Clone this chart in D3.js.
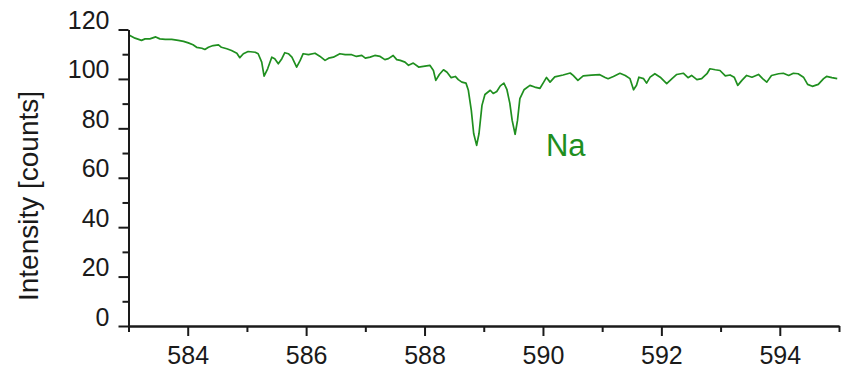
<!DOCTYPE html>
<html>
<head>
<meta charset="utf-8">
<script src="https://cdn.jsdelivr.net/npm/d3@7"></script>
<style>
  html, body { margin: 0; padding: 0; background: #fff; }
  svg { display: block; }
  text { font-family: "Liberation Sans", Arial, Helvetica, sans-serif; }
</style>
</head>
<body>
<svg id="chart" width="846" height="371"></svg>
<script>
// Wavelength (nm) and intensity (counts)
const wavelength = [
  583.00, 583.11, 583.22, 583.28, 583.36, 583.46, 583.53, 583.62, 583.73, 583.84,
  583.93, 584.01, 584.09, 584.15, 584.24, 584.29, 584.35, 584.43, 584.52, 584.57,
  584.66, 584.74, 584.83, 584.88, 584.94, 585.02, 585.14, 585.19, 585.25, 585.29,
  585.35, 585.42, 585.47, 585.53, 585.59, 585.64, 585.70, 585.76, 585.84, 585.90,
  585.95, 586.04, 586.15, 586.23, 586.32, 586.38, 586.46, 586.57, 586.66, 586.77,
  586.85, 586.94, 587.00, 587.08, 587.16, 587.25, 587.33, 587.39, 587.47, 587.53,
  587.59, 587.67, 587.73, 587.81, 587.90, 587.98, 588.09, 588.15, 588.19, 588.25,
  588.32, 588.38, 588.45, 588.52, 588.57, 588.63, 588.70, 588.74, 588.79, 588.83,
  588.88, 588.92, 588.97, 589.02, 589.11, 589.16, 589.22, 589.28, 589.34, 589.39,
  589.44, 589.48, 589.53, 589.57, 589.61, 589.68, 589.78, 589.86, 589.95, 590.01,
  590.06, 590.12, 590.20, 590.34, 590.46, 590.51, 590.59, 590.68, 590.82, 590.96,
  591.05, 591.10, 591.19, 591.30, 591.39, 591.47, 591.53, 591.58, 591.62, 591.70,
  591.75, 591.81, 591.89, 591.98, 592.09, 592.18, 592.26, 592.37, 592.45, 592.51,
  592.60, 592.68, 592.77, 592.82, 592.91, 592.99, 593.08, 593.16, 593.23, 593.29,
  593.36, 593.44, 593.53, 593.64, 593.71, 593.78, 593.86, 593.98, 594.06, 594.15,
  594.23, 594.31, 594.40, 594.47, 594.55, 594.65, 594.74, 594.79, 594.88, 594.97
];
const intensity = [
  117.9, 116.5, 115.6, 116.2, 116.2, 117.0, 116.2, 116.0, 116.0, 115.6,
  115.2, 114.6, 113.8, 112.8, 112.4, 111.9, 112.8, 113.5, 113.8, 112.8,
  112.2, 111.5, 110.4, 108.6, 110.2, 111.1, 110.8, 110.2, 106.8, 101.1,
  104.1, 108.8, 108.2, 106.1, 108.2, 110.6, 110.2, 108.8, 104.8, 107.5,
  110.2, 109.8, 110.4, 109.2, 107.5, 108.4, 108.8, 110.2, 109.8, 109.8,
  109.1, 109.5, 108.4, 108.8, 109.5, 109.1, 107.8, 108.2, 109.5, 107.8,
  107.5, 106.8, 105.5, 106.4, 104.8, 105.1, 105.5, 103.4, 99.4, 101.8,
  103.7, 102.7, 100.5, 101.0, 99.7, 98.7, 98.3, 95.4, 87.3, 77.9,
  73.1, 77.9, 89.3, 93.7, 95.4, 94.1, 94.9, 97.2, 98.3, 95.8,
  90.2, 83.2, 77.6, 83.2, 92.0, 95.6, 97.4, 96.7, 96.2, 98.6,
  100.6, 98.7, 100.8, 101.6, 102.4, 101.4, 99.4, 101.2, 101.5, 101.7,
  100.6, 100.1, 101.0, 102.3, 101.4, 100.1, 95.6, 97.4, 100.7, 100.1,
  98.3, 100.7, 102.1, 100.7, 98.1, 100.1, 101.8, 102.3, 100.5, 101.4,
  99.7, 100.1, 102.1, 104.1, 103.7, 103.4, 101.2, 101.6, 100.7, 97.4,
  99.4, 101.4, 100.7, 101.8, 100.1, 98.7, 101.4, 102.1, 102.3, 101.4,
  102.3, 102.1, 100.7, 97.8, 97.0, 97.8, 100.1, 101.0, 100.5, 100.1
];
const xMajorTicks = [584, 586, 588, 590, 592, 594];
const xMinorTicks = [583, 585, 587, 589, 591, 593, 595];
const yMajorTicks = [0, 20, 40, 60, 80, 100, 120];
const yMinorTicks = [10, 30, 50, 70, 90, 110];
const xDomain = [583, 595];
const yDomain = [0, 120];
const yLabel = "Intensity [counts]";
const annotation = { text: "Na", x: 590.05, y: 69 };

const svg = d3.select("#chart");
const mLeft = 128.5, mRight = 839, mTop = 29.5, mBottom = 326;
const lineColor = "#1f8f1f";
const inkColor = "#1a1a1a";

const x = d3.scaleLinear().domain(xDomain).range([mLeft, mRight]);
const y = d3.scaleLinear().domain(yDomain).range([mBottom, mTop]);

// Data line
const pts = wavelength.map((w, i) => [w, intensity[i]]);
svg.append("path")
  .datum(pts)
  .attr("fill", "none")
  .attr("stroke", lineColor)
  .attr("stroke-width", 1.7)
  .attr("stroke-linejoin", "round")
  .attr("d", d3.line().x(d => x(d[0])).y(d => y(d[1])));

// Minor ticks
const gxMinor = svg.append("g").attr("transform", `translate(0,${mBottom})`)
  .call(d3.axisBottom(x).tickValues(xMinorTicks).tickSize(6).tickSizeOuter(0).tickFormat(""));
const gyMinor = svg.append("g").attr("transform", `translate(${mLeft},0)`)
  .call(d3.axisLeft(y).tickValues(yMinorTicks).tickSize(6).tickSizeOuter(0).tickFormat(""));

// Major axes
const gx = svg.append("g").attr("transform", `translate(0,${mBottom})`)
  .call(d3.axisBottom(x).tickValues(xMajorTicks).tickSize(10).tickSizeOuter(0).tickPadding(10).tickFormat(d3.format("d")));
const gy = svg.append("g").attr("transform", `translate(${mLeft},0)`)
  .call(d3.axisLeft(y).tickValues(yMajorTicks).tickSize(10).tickSizeOuter(0).tickPadding(9).tickFormat(d3.format("d")));

[gxMinor, gyMinor, gx, gy].forEach(g => {
  g.selectAll("path.domain").attr("stroke", inkColor).attr("stroke-width", 2);
  g.selectAll(".tick line").attr("stroke", inkColor).attr("stroke-width", 2);
  g.selectAll("text")
    .attr("font-family", '"Liberation Sans", Arial, sans-serif')
    .attr("font-size", 25)
    .attr("fill", inkColor);
});
gx.selectAll("text").attr("dy", "0.71em");
gy.selectAll("text").attr("dy", "-0.04em");

// Y axis label
svg.append("text")
  .attr("transform", `translate(38,196) rotate(-90)`)
  .attr("text-anchor", "middle")
  .attr("font-size", 28)
  .attr("fill", inkColor)
  .text(yLabel);

// Annotation
svg.append("text")
  .attr("x", x(annotation.x))
  .attr("y", y(annotation.y))
  .attr("font-size", 31)
  .attr("fill", lineColor)
  .text(annotation.text);
</script>
</body>
</html>
